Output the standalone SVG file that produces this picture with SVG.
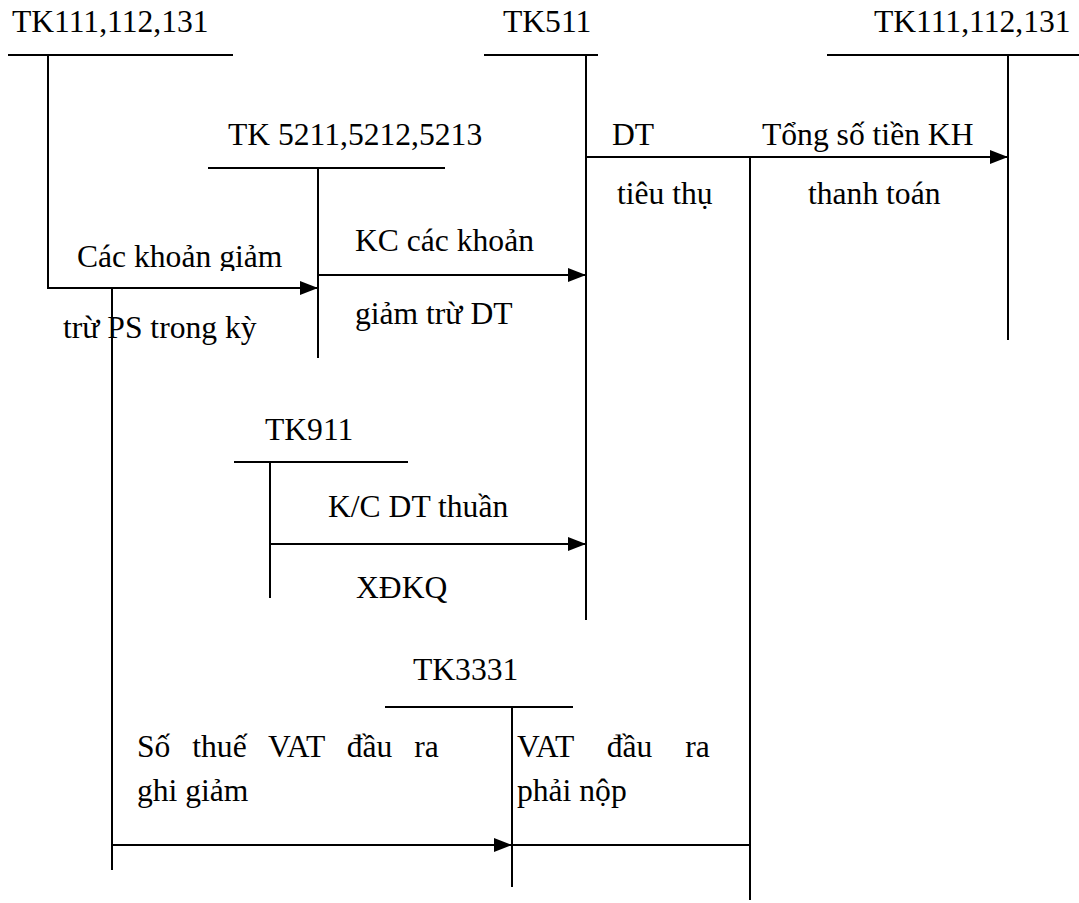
<svg xmlns="http://www.w3.org/2000/svg" width="1079" height="903" viewBox="0 0 1079 903">
<style>
text{font-family:"Liberation Serif","Times New Roman",serif;font-size:31.6px;fill:#000}
.l{stroke:#000;stroke-width:2;fill:none}
.a{stroke:#000;stroke-width:2;fill:none;marker-end:url(#ah)}
</style>
<defs>
<marker id="ah" markerWidth="18" markerHeight="14" refX="18" refY="7" orient="auto" markerUnits="userSpaceOnUse">
<path d="M0,0 L18,7 L0,14 Z" fill="#000"/>
</marker>
<clipPath id="cut"><rect x="60" y="230" width="260" height="41"/></clipPath>
</defs>
<rect width="1079" height="903" fill="#fff"/>
<g id="tk111-left">
<text x="12" y="32">TK111,112,131</text>
<line class="l" x1="8" y1="55" x2="233" y2="55"/>
<line class="l" x1="48" y1="55" x2="48" y2="289"/>
</g>
<g id="tk511">
<text x="503" y="32">TK511</text>
<line class="l" x1="484" y1="55" x2="598" y2="55"/>
<line class="l" x1="586" y1="55" x2="586" y2="620"/>
</g>
<g id="tk111-right">
<text x="874" y="32">TK111,112,131</text>
<line class="l" x1="827" y1="55" x2="1079" y2="55"/>
<line class="l" x1="1008" y1="55" x2="1008" y2="340"/>
</g>
<g id="tk5211">
<text x="228" y="145">TK 5211,5212,5213</text>
<line class="l" x1="208" y1="168" x2="445" y2="168"/>
<line class="l" x1="318" y1="168" x2="318" y2="358"/>
</g>
<g id="tk911">
<text x="265" y="440">TK911</text>
<line class="l" x1="234" y1="462" x2="408" y2="462"/>
<line class="l" x1="270" y1="462" x2="270" y2="598"/>
</g>
<g id="tk3331">
<text x="413" y="680">TK3331</text>
<line class="l" x1="385" y1="707" x2="573" y2="707"/>
<line class="l" x1="512" y1="707" x2="512" y2="887"/>
</g>
<g id="connectors">
<line class="a" x1="586" y1="157" x2="1008" y2="157"/>
<line class="l" x1="750" y1="157" x2="750" y2="900"/>
<line class="a" x1="48" y1="288" x2="318" y2="288"/>
<line class="l" x1="112" y1="289" x2="112" y2="870"/>
<line class="a" x1="318" y1="275" x2="586" y2="275"/>
<line class="a" x1="270" y1="544" x2="586" y2="544"/>
<line class="a" x1="112" y1="845" x2="512" y2="845"/>
<line class="l" x1="512" y1="845" x2="750" y2="845"/>
</g>
<g id="labels">
<text x="612" y="145">DT</text>
<text x="762" y="145">Tổng số tiền KH</text>
<text x="617" y="204">tiêu thụ</text>
<text x="808" y="204">thanh toán</text>
<text x="77" y="267" clip-path="url(#cut)">Các khoản giảm</text>
<text x="63" y="338">trừ PS trong kỳ</text>
<text x="355" y="251">KC các khoản</text>
<text x="355" y="324">giảm trừ DT</text>
<text x="328" y="517">K/C DT thuần</text>
<text x="356" y="598">XĐKQ</text>
<text x="137" y="757" word-spacing="14">Số thuế VAT đầu ra</text>
<text x="137" y="801">ghi giảm</text>
<text x="517" y="757" word-spacing="25">VAT đầu ra</text>
<text x="517" y="801">phải nộp</text>
</g>
</svg>
